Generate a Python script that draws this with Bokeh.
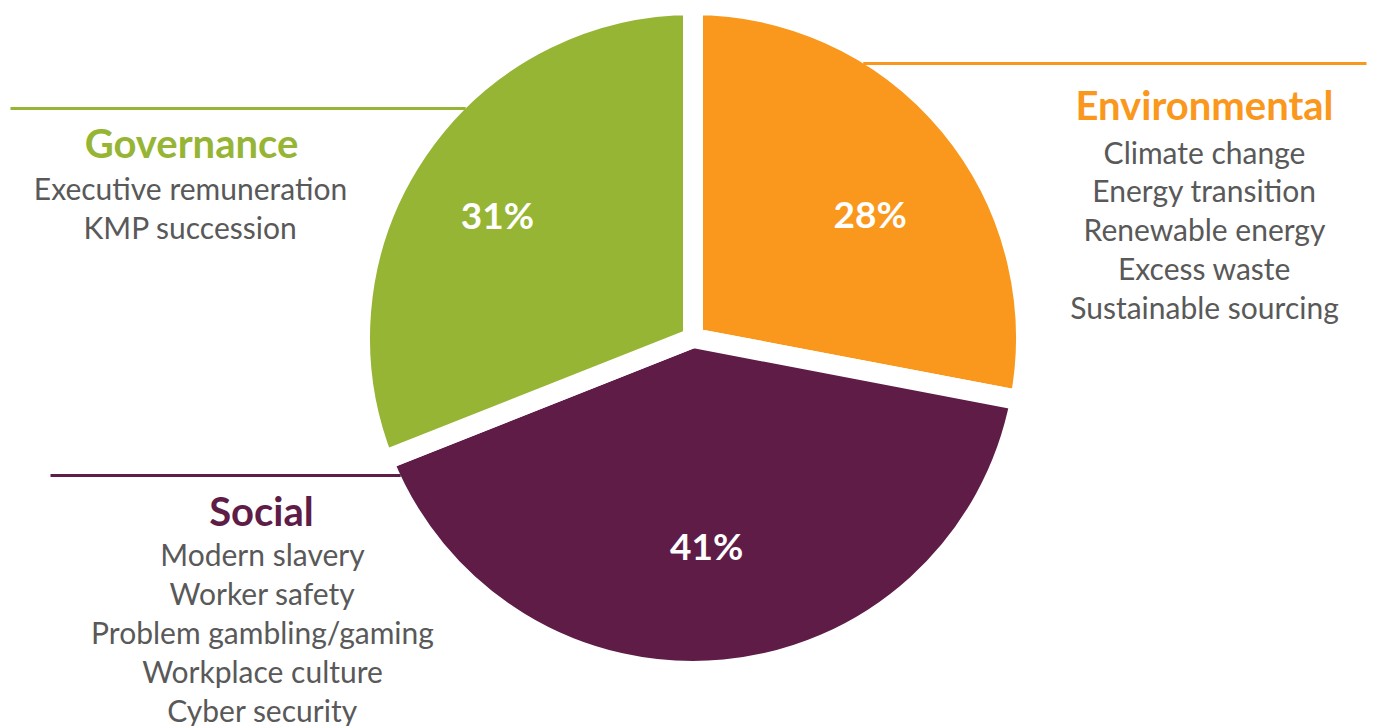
import numpy as np
from bokeh.plotting import figure
from bokeh.models import Range1d, ColumnDataSource
from bokeh.core.properties import value
from bokeh.embed import file_html
from bokeh.resources import INLINE

# ---- data ----
categories = ["Environmental", "Social", "Governance"]
shares = [28, 41, 31]
pct_labels = ["28%", "41%", "31%"]
colors = ["#F9981C", "#5E1C47", "#97B534"]
env_items = ["Climate change", "Energy transition", "Renewable energy",
             "Excess waste", "Sustainable sourcing"]
soc_items = ["Modern slavery", "Worker safety", "Problem gambling/gaming",
             "Workplace culture", "Cyber security"]
gov_items = ["Executive remuneration", "KMP succession"]

W, H = 1373, 726
def Y(py):
    return H - py

p = figure(width=W, height=H, output_backend="svg", toolbar_location=None,
           x_range=Range1d(0, W), y_range=Range1d(0, H),
           x_axis_location=None, y_axis_location=None, min_border=0,
           background_fill_color="white", border_fill_color="white")
p.outline_line_color = None
p.grid.visible = False

CX, CY = 692.5, Y(337.5)
GAP = 20
RV = 323
R = RV + GAP / 2

frac = np.array(shares, dtype=float) / sum(shares)
cum = np.concatenate([[0.0], np.cumsum(frac)])
start = np.pi / 2 - 2 * np.pi * cum[:-1]
end = np.pi / 2 - 2 * np.pi * cum[1:]
mid = (start + end) / 2

src = ColumnDataSource(dict(start=start, end=end, color=colors))
p.wedge(x=CX, y=CY, radius=R, start_angle="start", end_angle="end",
        direction="clock", fill_color="color", line_color="white",
        line_width=GAP, line_join="miter", source=src)

# leader lines
def edge_x(py, side):
    dy = CY - Y(py)
    return CX + side * np.sqrt(RV ** 2 - dy ** 2)

p.segment(x0=[edge_x(63, 1), 10, 50], y0=[Y(63), Y(108), Y(475)],
          x1=[1366, edge_x(108, -1), edge_x(475, -1)], y1=[Y(63), Y(108), Y(475)],
          line_color=[colors[0], colors[2], colors[1]], line_width=3)

# percentage labels: on the slice bisector, with small placement nudges (px)
lr = 0.68 * RV
nudge_x = np.array([8, -7, -14])
nudge_y = np.array([-16, 11, 0])
p.text(x=CX + lr * np.cos(mid) + nudge_x, y=CY + lr * np.sin(mid) + nudge_y,
       text=pct_labels,
       text_font=value("Lato"), text_font_style="bold", text_font_size="37px",
       text_color="white", text_align="center", text_baseline="middle")

FONT = value("Lato")
# headers
p.text(x=[1204, 261, 191], y=[Y(104), Y(510), Y(142)], text=categories,
       text_font=FONT, text_font_style="bold", text_font_size="40px",
       text_color=colors, text_align="center", text_baseline="alphabetic")

gray = "#595959"
p.text(x=[1204] * len(env_items), y=[Y(151 + 38.8 * i) for i in range(len(env_items))],
       text=env_items, text_font=FONT, text_font_size="30px", text_color=gray,
       text_align="center", text_baseline="alphabetic")
p.text(x=[190] * len(gov_items), y=[Y(187 + 39 * i) for i in range(len(gov_items))],
       text=gov_items, text_font=FONT, text_font_size="30px", text_color=gray,
       text_align="center", text_baseline="alphabetic")
p.text(x=[262] * len(soc_items), y=[Y(553 + 39 * i) for i in range(len(soc_items))],
       text=soc_items, text_font=FONT, text_font_size="30px", text_color=gray,
       text_align="center", text_baseline="alphabetic")

open("out.html", "w").write(file_html(p, INLINE))
